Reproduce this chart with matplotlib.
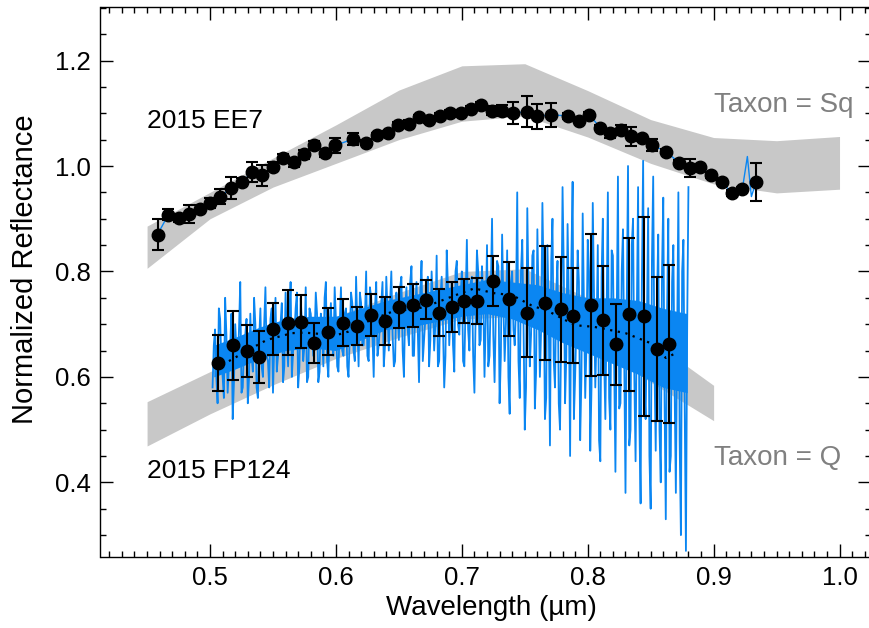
import numpy as np
import matplotlib
matplotlib.use('Agg')
import matplotlib.pyplot as plt
from matplotlib.ticker import MultipleLocator

plt.rcParams['font.family'] = ['Liberation Sans', 'DejaVu Sans']

# 2015 EE7 binned reflectance
ee7_wave = [0.4583, 0.4669, 0.4754, 0.4836, 0.4921, 0.5000, 0.5083, 0.5167, 0.5252, 0.5335,
            0.5415, 0.5498, 0.5580, 0.5663, 0.5744, 0.5829, 0.5911, 0.5993, 0.6136, 0.6241,
            0.6328, 0.6410, 0.6495, 0.6577, 0.6659, 0.6739, 0.6823, 0.6906, 0.6990, 0.7073,
            0.7156, 0.7238, 0.7322, 0.7405, 0.7515, 0.7595, 0.7706, 0.7846, 0.7931, 0.8013,
            0.8098, 0.8180, 0.8262, 0.8344, 0.8429, 0.8511, 0.8622, 0.8728, 0.8813, 0.8894,
            0.8979, 0.9064, 0.9144, 0.9228, 0.9337]
ee7_refl = [0.870, 0.908, 0.901, 0.909, 0.918, 0.930, 0.942, 0.959, 0.970, 0.988,
            0.982, 0.999, 1.015, 1.007, 1.022, 1.040, 1.025, 1.039, 1.051, 1.044,
            1.058, 1.062, 1.078, 1.080, 1.092, 1.087, 1.095, 1.101, 1.101, 1.109,
            1.116, 1.105, 1.105, 1.100, 1.103, 1.094, 1.097, 1.095, 1.086, 1.097,
            1.073, 1.062, 1.068, 1.056, 1.053, 1.040, 1.027, 1.006, 0.996, 0.998,
            0.983, 0.970, 0.949, 0.956, 0.970]
ee7_err = [0.030, 0.010, 0.008, 0.017, 0.008, 0.010, 0.014, 0.021, 0.008, 0.019,
           0.019, 0.008, 0.008, 0.008, 0.008, 0.008, 0.008, 0.014, 0.012, 0.005,
           0.005, 0.005, 0.005, 0.008, 0.005, 0.005, 0.005, 0.005, 0.005, 0.005,
           0.005, 0.008, 0.011, 0.021, 0.029, 0.024, 0.023, 0.005, 0.005, 0.005,
           0.005, 0.008, 0.010, 0.018, 0.005, 0.011, 0.005, 0.005, 0.017, 0.005,
           0.005, 0.005, 0.005, 0.005, 0.036]
# spike in the EE7 spectrum near the red end
ee7_spike_wave = [0.9268, 0.9300]
ee7_spike_refl = [1.018, 0.942]

# 2015 FP124 binned reflectance
fp_wave = [0.5066, 0.5185, 0.5291, 0.5392, 0.5498, 0.5617, 0.5720, 0.5826, 0.5940, 0.6054,
           0.6168, 0.6279, 0.6390, 0.6501, 0.6610, 0.6713, 0.6819, 0.6920, 0.7020, 0.7121,
           0.7250, 0.7377, 0.7515, 0.7661, 0.7786, 0.7886, 0.8024, 0.8124, 0.8225, 0.8328,
           0.8447, 0.8553, 0.8648]
fp_refl = [0.627, 0.660, 0.649, 0.638, 0.691, 0.703, 0.705, 0.664, 0.686, 0.703,
           0.696, 0.718, 0.706, 0.732, 0.736, 0.746, 0.722, 0.733, 0.744, 0.744,
           0.782, 0.747, 0.722, 0.741, 0.728, 0.716, 0.736, 0.707, 0.662, 0.719,
           0.715, 0.653, 0.662]
fp_err = [0.053, 0.065, 0.049, 0.050, 0.050, 0.061, 0.050, 0.038, 0.045, 0.044,
          0.036, 0.040, 0.045, 0.039, 0.041, 0.037, 0.044, 0.047, 0.042, 0.043,
          0.047, 0.070, 0.085, 0.108, 0.100, 0.090, 0.135, 0.103, 0.077, 0.145,
          0.189, 0.136, 0.150]

# FP124 smoothed spectrum (dotted)
fp_smooth_wave = [0.515, 0.535, 0.545, 0.565, 0.575, 0.600, 0.610, 0.625, 0.645, 0.655,
                  0.670, 0.695, 0.710, 0.725, 0.740, 0.755, 0.770, 0.790, 0.805, 0.830,
                  0.850, 0.862, 0.870]
fp_smooth_refl = [0.630, 0.657, 0.670, 0.683, 0.684, 0.679, 0.686, 0.705, 0.724, 0.727,
                  0.732, 0.755, 0.768, 0.759, 0.755, 0.736, 0.723, 0.698, 0.695, 0.683,
                  0.664, 0.636, 0.645]

# FP124 full-resolution spectrum: even samples 0.502 - 0.880 um ...
fp_spec_a = [0.58, 0.69, 0.55, 0.71, 0.60, 0.75, 0.57, 0.66, 0.52, 0.70,
             0.62, 0.78, 0.58, 0.68, 0.55, 0.72, 0.61, 0.70, 0.56, 0.73,
             0.60, 0.77, 0.63, 0.71, 0.57, 0.75, 0.64, 0.70, 0.59, 0.76,
             0.62, 0.78, 0.65, 0.73, 0.58, 0.75, 0.63, 0.77, 0.60, 0.72,
             0.64, 0.76, 0.59, 0.72, 0.62, 0.78, 0.60, 0.74, 0.64, 0.71,
             0.61, 0.77, 0.64, 0.73, 0.60, 0.76, 0.65, 0.79, 0.62, 0.74,
             0.66, 0.80, 0.63, 0.75, 0.60, 0.78, 0.66, 0.74, 0.62, 0.79,
             0.65, 0.80, 0.62, 0.76, 0.67, 0.79, 0.60, 0.77, 0.66, 0.81,
             0.64, 0.78, 0.59, 0.82, 0.67, 0.76, 0.62, 0.80, 0.65, 0.83,
             0.63, 0.79, 0.58, 0.84, 0.66, 0.78, 0.61, 0.82, 0.68, 0.80,
             0.62, 0.86, 0.65, 0.79, 0.57, 0.84, 0.66, 0.81, 0.60, 0.85,
             0.64, 0.90, 0.59, 0.82, 0.55, 0.87, 0.63, 0.84, 0.53, 0.80,
             0.66, 0.95, 0.56, 0.86, 0.50, 0.92, 0.62, 0.83, 0.54, 0.88,
             0.60, 0.93, 0.52, 0.85, 0.47, 0.90, 0.58, 0.82, 0.50, 0.96,
             0.55, 0.89, 0.45, 0.97, 0.60, 0.84, 0.48, 0.91, 0.56, 0.86,
             0.46, 0.93, 0.58, 0.85, 0.44, 0.90, 0.52, 0.95, 0.50, 0.83,
             0.42, 0.98, 0.55, 0.88, 0.38, 1.00, 0.50, 0.90, 0.44, 0.96,
             0.36, 1.01, 0.52, 0.92, 0.35, 0.98, 0.46, 0.87, 0.40, 0.94,
             0.33, 0.90, 0.45, 0.85, 0.38, 0.95, 0.30, 0.86, 0.27, 0.96]
# ... and odd samples 0.503 - 0.879 um
fp_spec_b = [0.66, 0.60, 0.73, 0.63, 0.56, 0.68, 0.62, 0.72, 0.59, 0.65,
             0.69, 0.57, 0.66, 0.71, 0.60, 0.64, 0.75, 0.58, 0.67, 0.62,
             0.70, 0.64, 0.58, 0.73, 0.66, 0.61, 0.69, 0.74, 0.62, 0.67,
             0.71, 0.60, 0.68, 0.76, 0.62, 0.70, 0.66, 0.59, 0.73, 0.68,
             0.67, 0.72, 0.61, 0.69, 0.75, 0.63, 0.70, 0.66, 0.77, 0.62,
             0.70, 0.65, 0.72, 0.62, 0.68, 0.74, 0.63, 0.70, 0.76, 0.66,
             0.71, 0.64, 0.77, 0.68, 0.73, 0.64, 0.70, 0.78, 0.66, 0.72,
             0.74, 0.68, 0.63, 0.72, 0.77, 0.65, 0.73, 0.69, 0.78, 0.64,
             0.73, 0.69, 0.76, 0.63, 0.71, 0.79, 0.67, 0.74, 0.70, 0.62,
             0.75, 0.70, 0.64, 0.77, 0.72, 0.66, 0.80, 0.70, 0.75, 0.63,
             0.74, 0.69, 0.78, 0.64, 0.72, 0.80, 0.67, 0.75, 0.71, 0.62,
             0.76, 0.68, 0.72, 0.81, 0.64, 0.74, 0.70, 0.60, 0.78, 0.69,
             0.73, 0.63, 0.80, 0.70, 0.58, 0.76, 0.68, 0.84, 0.61, 0.74,
             0.69, 0.78, 0.56, 0.72, 0.82, 0.63, 0.76, 0.55, 0.70, 0.80,
             0.64, 0.74, 0.82, 0.52, 0.70, 0.78, 0.60, 0.73, 0.66, 0.80,
             0.58, 0.76, 0.68, 0.48, 0.79, 0.64, 0.72, 0.56, 0.84, 0.62,
             0.70, 0.54, 0.80, 0.62, 0.74, 0.47, 0.85, 0.60, 0.72, 0.52,
             0.78, 0.58, 0.70, 0.45, 0.82, 0.62, 0.74, 0.50, 0.80, 0.56,
             0.72, 0.42, 0.78, 0.58, 0.66, 0.48, 0.80, 0.55, 0.70]
fp_spec_wave = np.concatenate([np.linspace(0.502, 0.880, len(fp_spec_a)),
                               np.linspace(0.503, 0.879, len(fp_spec_b))])
fp_spec = np.concatenate([fp_spec_a, fp_spec_b])
order = np.argsort(fp_spec_wave)
fp_spec_wave, fp_spec = fp_spec_wave[order], fp_spec[order]

# densest part of the FP124 spectrum, where the trace overlaps itself
fp_core_wave = [0.503, 0.52, 0.54, 0.56, 0.58, 0.60, 0.62, 0.64, 0.66, 0.68,
                0.70, 0.72, 0.74, 0.76, 0.78, 0.80, 0.82, 0.84, 0.86, 0.879]
fp_core_lo = [0.600, 0.615, 0.635, 0.650, 0.655, 0.650, 0.670, 0.690, 0.695, 0.705,
              0.715, 0.720, 0.710, 0.690, 0.665, 0.645, 0.625, 0.605, 0.580, 0.570]
fp_core_hi = [0.660, 0.675, 0.695, 0.710, 0.715, 0.715, 0.730, 0.745, 0.755, 0.765,
              0.775, 0.785, 0.780, 0.775, 0.760, 0.750, 0.750, 0.745, 0.730, 0.720]

# taxonomic envelopes
sq_wave = [0.45, 0.50, 0.55, 0.60, 0.65, 0.70, 0.75, 0.80, 0.85, 0.90, 0.95, 1.00]
sq_upper = [0.886, 0.950, 1.015, 1.078, 1.144, 1.190, 1.194, 1.143, 1.088, 1.054, 1.048, 1.056]
sq_lower = [0.806, 0.900, 0.960, 1.005, 1.050, 1.085, 1.095, 1.055, 1.005, 0.966, 0.949, 0.956]
q_wave = [0.45, 0.50, 0.55, 0.60, 0.65, 0.70, 0.75, 0.80, 0.85, 0.90]
q_upper = [0.553, 0.610, 0.665, 0.715, 0.760, 0.800, 0.805, 0.750, 0.670, 0.584]
q_lower = [0.469, 0.530, 0.585, 0.635, 0.675, 0.710, 0.715, 0.670, 0.590, 0.517]

blue = '#0A86F2'
band = '#C8C8C8'

fig = plt.figure(figsize=(8.7, 6.28), dpi=100)
ax = fig.add_axes([100.5 / 870, 71.3 / 628, 770.5 / 870, 549.4 / 628])

ax.fill_between(sq_wave, sq_lower, sq_upper, color=band, lw=0, zorder=1)
ax.fill_between(q_wave, q_lower, q_upper, color=band, lw=0, zorder=1)

# EE7
ee7_line_x = ee7_wave[:-1] + ee7_spike_wave + ee7_wave[-1:]
ee7_line_y = ee7_refl[:-1] + ee7_spike_refl + ee7_refl[-1:]
ax.plot(ee7_line_x, ee7_line_y, color=blue, lw=1, zorder=2)
ax.errorbar(ee7_wave, ee7_refl, yerr=ee7_err, fmt='o', color='k', ms=9,
            capsize=4, elinewidth=1.5, capthick=1.5, zorder=5)

# FP124
ax.fill_between(fp_core_wave, fp_core_lo, fp_core_hi, color=blue, lw=0, zorder=2)
ax.plot(fp_spec_wave, fp_spec, color=blue, lw=1.3, zorder=2)
ax.plot(fp_smooth_wave, fp_smooth_refl, color='k', lw=1.6, ls=(0, (1, 2.5)), zorder=3)
ax.errorbar(fp_wave, fp_refl, yerr=fp_err, fmt='o', color='k', ms=9,
            capsize=4, elinewidth=1.5, capthick=1.5, zorder=5)

ax.text(0.45, 1.072, '2015 EE7', fontsize=19, va='baseline', ha='left')
ax.text(0.45, 0.408, '2015 FP124', fontsize=19, va='baseline', ha='left')
ax.text(0.90, 1.103, 'Taxon = Sq', fontsize=20, va='baseline', ha='left', color='#808080')
ax.text(0.90, 0.433, 'Taxon = Q', fontsize=20, va='baseline', ha='left', color='#808080')

ax.set_xlim(0.413, 1.025)
ax.set_ylim(0.259, 1.301)
ax.xaxis.set_major_locator(MultipleLocator(0.1))
ax.xaxis.set_minor_locator(MultipleLocator(0.01))
ax.yaxis.set_major_locator(MultipleLocator(0.2))
ax.yaxis.set_minor_locator(MultipleLocator(0.05))
ax.tick_params(which='both', direction='in', top=True, right=True, width=1, labelsize=18.5)
ax.tick_params(which='major', length=9.5)
ax.tick_params(which='minor', length=4.5)
ax.tick_params(axis='y', pad=7)
ax.tick_params(axis='x', pad=7)
for s in ax.spines.values():
    s.set_linewidth(1)

ax.set_xlabel('Wavelength (µm)', fontsize=20)
ax.set_ylabel('Normalized Reflectance', fontsize=21)
ax.xaxis.set_label_coords(0.507, -0.070)
ax.yaxis.set_label_coords(-0.080, 0.524)

fig.savefig('out.png', dpi=100)
